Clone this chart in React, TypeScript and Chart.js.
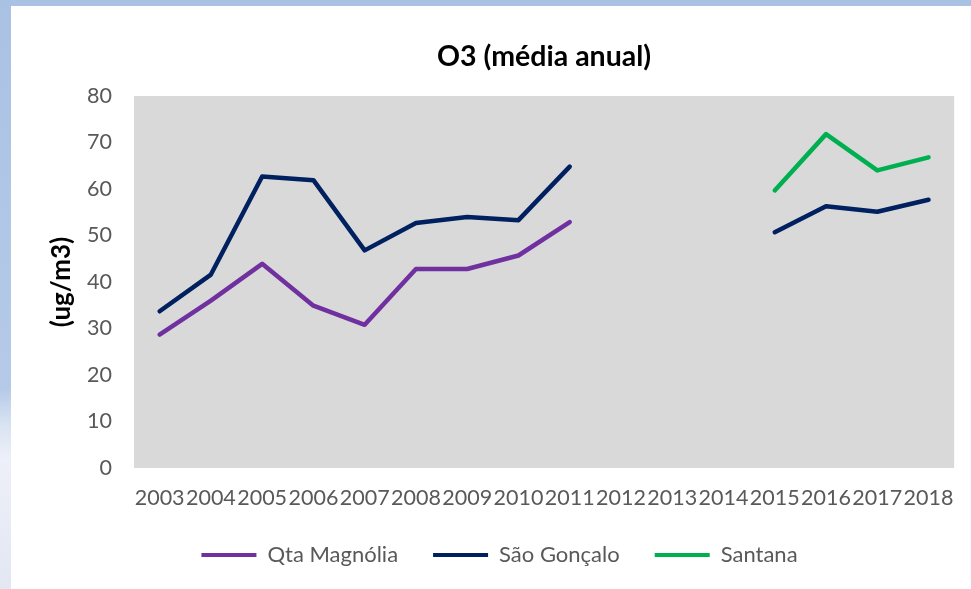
import React, { useEffect, useRef } from "react";
import { Chart, registerables } from "chart.js";

Chart.register(...registerables);

const years = ["2003","2004","2005","2006","2007","2008","2009","2010","2011","2012","2013","2014","2015","2016","2017","2018"];
const qtaMagnolia = [28.7, 36.0, 43.9, 34.9, 30.8, 42.8, 42.8, 45.7, 52.9, null, null, null, null, null, null, null];
const saoGoncalo = [33.7, 41.6, 62.7, 61.9, 46.8, 52.7, 54.0, 53.3, 64.8, null, null, null, 50.7, 56.3, 55.1, 57.7];
const santana = [null, null, null, null, null, null, null, null, null, null, null, null, 59.7, 71.8, 64.0, 66.8];
const yTicks = [0, 10, 20, 30, 40, 50, 60, 70, 80];

const plotBg = {
  id: "plotBg",
  beforeDraw(chart: any) {
    const { ctx, chartArea } = chart;
    ctx.save();
    ctx.fillStyle = "#d9d9d9";
    ctx.fillRect(chartArea.left, chartArea.top, chartArea.right - chartArea.left, chartArea.bottom - chartArea.top);
    ctx.restore();
  },
};

export default function App() {
  const ref = useRef<HTMLCanvasElement | null>(null);
  useEffect(() => {
    if (!ref.current) return;
    const font = "Lato, 'Open Sans', sans-serif";
    const mk = (label: string, data: any[], color: string) => ({
      label,
      data,
      borderColor: color,
      backgroundColor: color,
      borderWidth: 4.5,
      pointRadius: 0,
      tension: 0,
      spanGaps: false,
      borderCapStyle: "round",
      borderJoinStyle: "round",
    });
    const chart = new Chart(ref.current, {
      type: "line",
      data: {
        labels: years,
        datasets: [
          mk("Qta Magnólia", qtaMagnolia, "#7030a0"),
          mk("São Gonçalo", saoGoncalo, "#002060"),
          mk("Santana", santana, "#00b050"),
        ],
      },
      options: {
        animation: false,
        responsive: false,
        maintainAspectRatio: false,
        layout: { padding: { left: 30, right: 13, top: 0, bottom: 13 } },
        plugins: {
          tooltip: { enabled: false },
          title: {
            display: true,
            text: "O3 (média anual)",
            fullSize: false,
            color: "#000",
            font: { family: font, size: 28.5, weight: "bold" },
            padding: { top: 33.9, bottom: 21.9 },
          },
          legend: {
            position: "bottom",
            labels: {
              boxWidth: 55,
              boxHeight: 4,
              padding: 35,
              color: "#595959",
              font: { family: font, size: 22 },
              generateLabels(c: any) {
                return c.data.datasets.map((d: any, i: number) => ({
                  text: d.label,
                  fillStyle: d.borderColor,
                  strokeStyle: d.borderColor,
                  lineWidth: 0,
                  fontColor: "#595959",
                  datasetIndex: i,
                  hidden: false,
                }));
              },
            },
          },
        },
        scales: {
          x: {
            offset: true,
            afterFit(s: any) {
              s.height = 41;
            },
            grid: { display: false, drawTicks: false, offset: true },
            border: { display: false },
            ticks: {
              autoSkip: false,
              maxRotation: 0,
              minRotation: 0,
              padding: 17,
              color: "#595959",
              font: { family: font, size: 21.5 },
            },
          },
          y: {
            min: 0,
            max: 80,
            afterBuildTicks(s: any) {
              s.ticks = yTicks.map((v) => ({ value: v }));
            },
            afterFit(s: any) {
              s.width = 93;
            },
            grid: { display: false, drawTicks: false },
            border: { display: false },
            ticks: {
              padding: 22,
              color: "#595959",
              font: { family: font, size: 21.5 },
            },
            title: {
              display: true,
              text: "(ug/m3)",
              color: "#000",
              font: { family: font, size: 26, weight: "bold" },
              padding: { top: 5, bottom: 0 },
            },
          },
        },
      },
      plugins: [plotBg],
    } as any);
    return () => chart.destroy();
  }, []);

  return (
    <div
      style={{
        position: "fixed",
        left: 0,
        top: 0,
        width: 971,
        height: 589,
        background:
          "linear-gradient(#a9c2e4 0%, #b5cae8 66%, #d8e3f1 72%, #edf0f8 78%, #e3e7f2 100%)",
        overflow: "hidden",
      }}
    >
      <div style={{ position: "absolute", left: 11, top: 6, width: 960, height: 583, background: "#fff" }}>
        <canvas ref={ref} width={960} height={583} style={{ display: "block", width: 960, height: 583 }} />
      </div>
    </div>
  );
}
